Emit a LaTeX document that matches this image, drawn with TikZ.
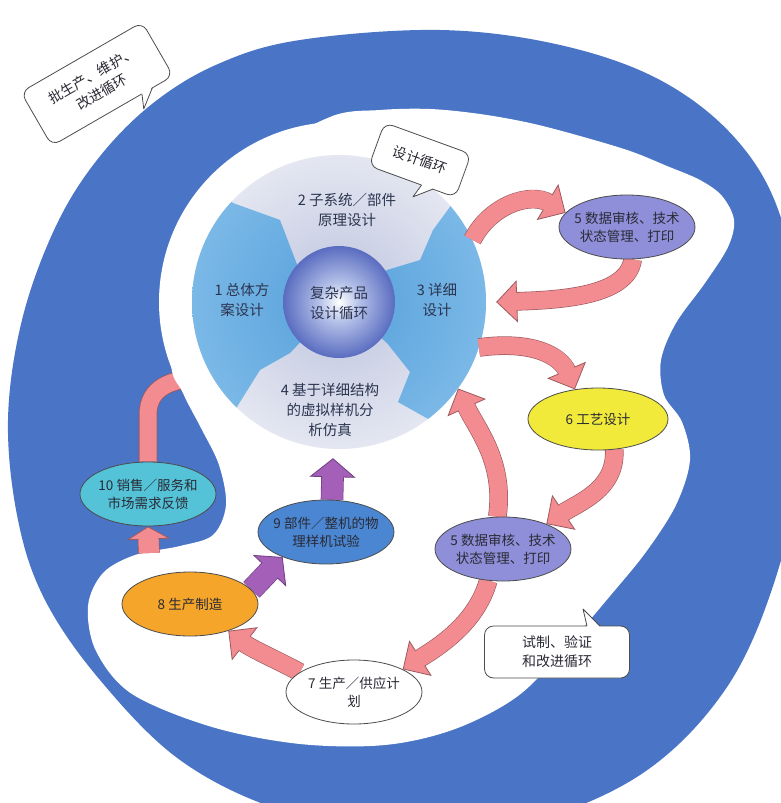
\documentclass[tikz,border=0pt]{standalone}
\usepackage{fontspec}
\newfontfamily\cjk{Noto Sans CJK SC}
\usetikzlibrary{arrows.meta,shapes.geometric,calc}
\definecolor{ringblue}{HTML}{4A74C6}
\definecolor{pinkfill}{HTML}{F28C91}
\definecolor{pinkedge}{HTML}{9C5A5E}
\definecolor{purfill}{HTML}{A45FB8}
\definecolor{puredge}{HTML}{6E3F7E}
\definecolor{lavin}{HTML}{BCC3DE}
\definecolor{lavout}{HTML}{E4E7F1}
\definecolor{segin}{HTML}{56A0DA}
\definecolor{segout}{HTML}{7AB8E7}
\definecolor{sphA}{HTML}{B3C0E8}
\definecolor{sphB}{HTML}{5A6CC0}
\definecolor{ellfive}{HTML}{8E8FD8}
\definecolor{ellsix}{HTML}{F1EA3A}
\definecolor{elleight}{HTML}{F5A62A}
\definecolor{ellnine}{HTML}{4A86D2}
\definecolor{ellten}{HTML}{54C3D8}
\definecolor{txt}{HTML}{2A2A35}
\definecolor{wtxt}{HTML}{2C3550}
\pgfdeclareradialshading{sphereshade}{\pgfpoint{0bp}{0bp}}{color(0bp)=(white); color(9bp)=(sphA); color(25bp)=(sphB); color(50bp)=(sphB)}
\pgfdeclarelayer{bg}
\pgfdeclarelayer{arrowlayer}
\pgfsetlayers{bg,arrowlayer,main}
\tikzset{
  ell/.style={ellipse, draw=black!70, line width=0.8pt, inner xsep=-12pt, inner ysep=2pt,
    align=center, text=txt, font=\cjk\fontsize{13.5}{18}\selectfont,
    minimum width=136pt, minimum height=64pt},
  wtext/.style={align=center, text=wtxt, font=\cjk\fontsize{14.5}{20}\selectfont},
  ctext/.style={align=center, text=txt, font=\cjk\fontsize{14}{19}\selectfont},
  callout/.style={draw=black!70, fill=white, line width=0.8pt, rounded corners=9pt},
  pinkarrow/.style={line width=17pt, draw=pinkfill,
    -{Triangle[width=42pt,length=21pt,fill=pinkfill,color=pinkedge,line width=0.8pt]},
    preaction={draw=pinkedge, line width=18.6pt, -, shorten >=19pt},
    postaction={draw=pinkfill, line width=17pt, -, shorten >=18pt}},
  pinkshort/.style={line width=20pt, draw=pinkfill,
    -{Triangle[width=44pt,length=13pt,fill=pinkfill,color=pinkedge,line width=0.8pt]},
    preaction={draw=pinkedge, line width=21.6pt, -, shorten >=11pt},
    postaction={draw=pinkfill, line width=20pt, -, shorten >=10pt}},
  pinkbody/.style={line width=17pt, draw=pinkfill,
    preaction={draw=pinkedge, line width=18.6pt}},
  purarrow/.style={line width=21pt, draw=purfill,
    -{Triangle[width=46pt,length=19pt,fill=purfill,color=puredge,line width=0.8pt]},
    preaction={draw=puredge, line width=22.6pt, -, shorten >=17pt},
    postaction={draw=purfill, line width=21pt, -, shorten >=16pt}},
}
\begin{document}
\begin{tikzpicture}[x=1pt,y=-1pt]
\useasboundingbox (0,0) rectangle (781,803);
% named shapes
\node[circle, minimum size=294pt, inner sep=0pt] (wheel) at (339,302) {};
\node[ell, fill=ellfive] (e5a) at (627,227) {5 数据审核、技术\\状态管理、打印};
\node[ell, fill=ellsix, minimum width=140pt, minimum height=62pt] (e6) at (598,419) {6 工艺设计};
\node[ell, fill=ellfive] (e5b) at (503,549) {5 数据审核、技术\\状态管理、打印};
\node[ell, fill=white] (e7) at (354,692) {7 生产／供应计\\划};
\node[ell, fill=elleight] (e8) at (190,604) {8 生产制造};
\node[ell, fill=ellnine] (e9) at (326,532) {9 部件／整机的物\\理样机试验};
\node[ell, fill=ellten] (e10) at (148,494) {10 销售／服务和\\市场需求反馈};
\coordinate (a10s) at (149,553);
\coordinate (a11e) at (205,378);

\begin{pgfonlayer}{bg}
\fill[white] (0,0) rectangle (781,803);
\begin{scope}
\clip (0,0) rectangle (781,803);
\fill[ringblue] plot[smooth cycle, tension=0.6] coordinates {
(8,420) (22,320) (55,228) (97,160) (152,104) (218,64) (300,40) (440,30) (560,45)
(660,80) (735,138) (780,215) (800,330) (800,460) (775,580) (725,690) (640,775)
(520,825) (400,835) (280,810) (180,760) (100,680) (45,600) (18,520)};
\end{scope}
% arrow from 10 disappearing under the white area
\draw[pinkbody] (e10.north) -- (148,415) .. controls (148,388) and (170,378) .. (a11e);
% white area
\fill[white] (wheel.center) circle[radius=180pt];
\fill[white] plot[smooth cycle, tension=0.55] coordinates {
(260,160) (330,117) (380,110) (430,109) (480,114) (530,123) (580,136) (630,151)
(667,166) (700,180) (722,196) (734,220) (728,247) (705,283) (676,323) (661,360)
(664,395) (682,422) (690,460) (676,505) (646,552) (610,596) (568,645) (518,696)
(455,729) (385,745) (300,744) (212,727) (132,694) (96,651) (88,606) (103,573)
(135,555) (180,546) (213,535) (226,505) (219,465) (201,428) (183,393) (172,358)
(200,250)};
% wheel
\shade[inner color=lavin, outer color=lavout] (wheel.center) circle[radius=147pt];
\begin{scope}
\clip (wheel.center) circle[radius=147pt];
\begin{scope}
\clip (233,203) -- (280,220) -- (298,267) -- (339,302) -- (290,353) -- (260,370)
  -- (235,410) -- (150,470) -- (150,140) -- cycle;
\shade[inner color=segin, outer color=segout] (wheel.center) circle[radius=147pt];
\end{scope}
\begin{scope}
\clip (455,200) -- (433,230) -- (420,260) -- (387,270) -- (339,302) -- (387,343)
  -- (410,372) -- (398,402) -- (430,420) -- (530,470) -- (530,140) -- cycle;
\shade[inner color=segin, outer color=segout] (wheel.center) circle[radius=147pt];
\end{scope}
\end{scope}
\shade[shading=sphereshade] (wheel.center) circle[radius=56pt];
\node[wtext] (hub) at (339,303) {复杂产品\\设计循环};
\node[wtext] (t1) at (242,300) {1 总体方\\案设计};
\node[wtext] (t2) at (347,210) {2 子系统／部件\\原理设计};
\node[wtext] (t3) at (437,300) {3 详细\\设计};
\node[wtext] (t4) at (330,410) {4 基于详细结构\\的虚拟样机分\\析仿真};
% callout 1
\node[callout, ctext, rotate=30, minimum width=140pt, minimum height=62pt] (c1) at (97,84) {批生产、维护、\\改进循环};
\begin{scope}[shift={(97,84)}, rotate=30]
\fill[white] (34,30) -- (28,45) -- (46,30) -- cycle;
\draw[draw=black!70, line width=0.8pt, line join=round] (34,31) -- (28,45) -- (46,31);
\end{scope}
% callout 2
\node[callout, ctext, rotate=-20, minimum width=92pt, minimum height=46pt] (c2) at (420,160) {设计循环};
\begin{scope}[shift={(420,160)}, rotate=-20]
\fill[white] (10,22) -- (6,37) -- (22,22) -- cycle;
\draw[draw=black!70, line width=0.8pt, line join=round] (10,23) -- (6,37) -- (22,23);
\end{scope}
% callout 3
\node[callout, ctext, minimum width=145pt, minimum height=52pt] (c3) at (557,652) {试制、验证\\和改进循环};
\begin{scope}[shift={(557,652)}]
\fill[white] (30,-25) -- (26,-43) -- (43,-25) -- cycle;
\draw[draw=black!70, line width=0.8pt, line join=round] (30,-26) -- (26,-43) -- (43,-26);
\end{scope}
\end{pgfonlayer}

\begin{pgfonlayer}{arrowlayer}
\draw[pinkarrow] (wheel.25) .. controls +(18,-35) and +(-35,-21) .. (e5a.167);
\draw[pinkarrow] (e5a.-80) .. controls +(-5,37) and +(64,-2) .. ($(wheel.0)+(10,0)$);
\draw[pinkarrow] (wheel.-18) .. controls +(51,-7) and +(-15,-35) .. (e6.128);
\draw[pinkarrow] (e6.-62) .. controls +(2,40) and +(33,-22) .. (e5b.30);
\draw[pinkarrow] (e5b.100) .. controls +(8,-56) and +(18,40) .. (wheel.-36);
\draw[pinkarrow] (e5b.-115) .. controls +(-12,43) and +(35,-22) .. (e7.25);
\draw[pinkarrow] (e7.160) .. controls +(-18,-10) and +(23,18) .. (e8.-35);
\draw[purarrow] (e8.13) -- (e9.210);
\draw[purarrow] ($(e9.north)+(6,0)$) -- ($(wheel.south)+(-6,9)$);
\draw[pinkshort] (a10s) -- (e10.south);
\end{pgfonlayer}
\end{tikzpicture}
\end{document}
